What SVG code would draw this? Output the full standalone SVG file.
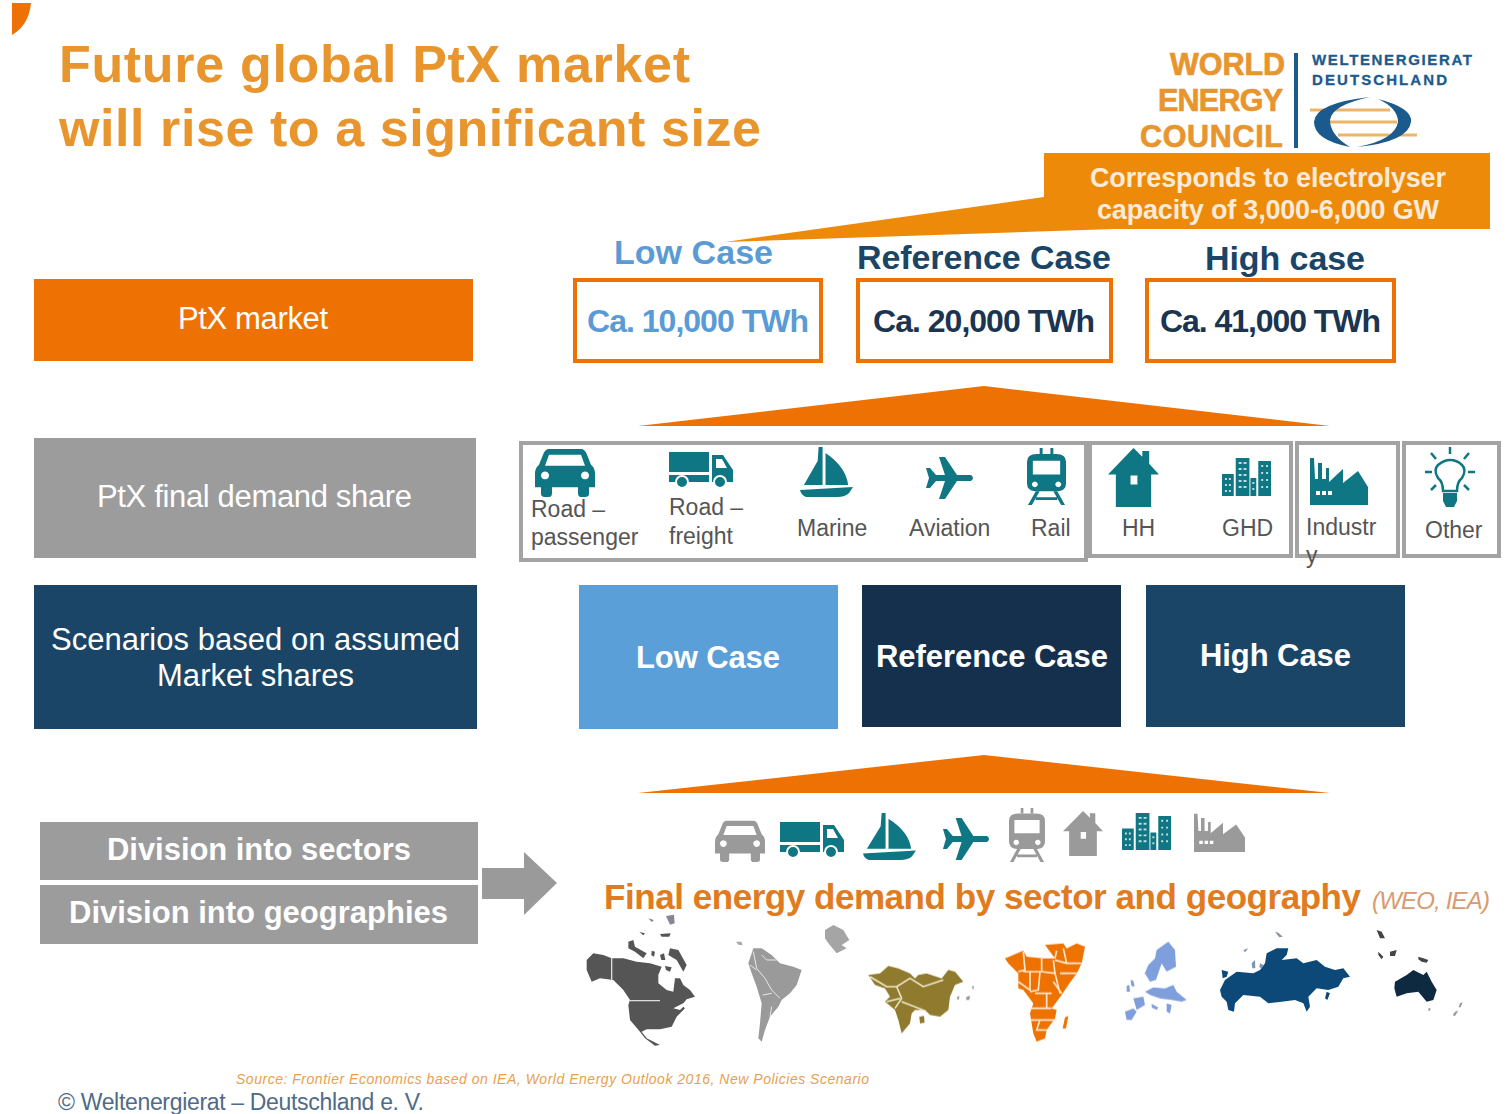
<svg xmlns="http://www.w3.org/2000/svg" width="1511" height="1114" viewBox="0 0 1511 1114" xmlns:xlink="http://www.w3.org/1999/xlink">
<style>
text{font-family:"Liberation Sans",Arial,sans-serif}
.title{font-size:52px;font-weight:700;fill:#E8952E}
.wl{font-size:31px;fill:#fff}
.wb{font-size:31px;font-weight:700;fill:#fff}
.lab{font-size:23px;fill:#555}
.val{font-size:32px;font-weight:700}
.head{font-size:34px;font-weight:700}
.logo{font-size:30.5px;font-weight:700;fill:#E8952E;stroke:#E8952E;stroke-width:.7}
.logo2{font-size:15px;font-weight:700;fill:#1B5A8C;stroke:#1B5A8C;stroke-width:.3}
.frame{fill:#fff;stroke:#A3A3A3;stroke-width:4}
.vbox{fill:#fff;stroke:#EE7203;stroke-width:4}
.t{fill:#0F7683}
.g{fill:#9A9A9A}
</style>
<defs>
<filter id="soft" x="-5%" y="-5%" width="110%" height="110%"><feGaussianBlur stdDeviation="0.6"/></filter>
<symbol id="car" viewBox="0 0 60 50" preserveAspectRatio="none"><path fill-rule="evenodd" d="M14 1H46Q50 1 52 7L56 17Q60 20 60 26V40H54V47Q54 50 50 50H46Q43 50 43 46V40H17V46Q17 50 14 50H10Q6 50 6 47V40H0V26Q0 20 4 17L8 7Q10 1 14 1ZM14 7L10 18H50L46 7ZM10 24a4 4 0 1 0 .1 0ZM50 24a4 4 0 1 0 .1 0Z"/></symbol>
<symbol id="truck" viewBox="0 0 64 36" preserveAspectRatio="none"><rect width="40" height="20"/><path fill-rule="evenodd" d="M0 23H40V30H0ZM43 3H54L64 18V30H43ZM47 7V16H58L53 7Z"/><circle cx="13" cy="30" r="6" stroke="#fff" stroke-width="2"/><circle cx="51" cy="30" r="6" stroke="#fff" stroke-width="2"/></symbol>
<symbol id="boat" viewBox="0 0 54 50" preserveAspectRatio="none"><path d="M19 0H23V38H4L18 14ZM26 6Q47 20 49 38H26ZM0 43L54 40L50 46Q46 50 38 50H6Q1 48 0 43Z"/></symbol>
<symbol id="plane" viewBox="0 0 50 42" preserveAspectRatio="none"><path d="M1 11H5L11 18H20L14 0H20L32 18H46Q50 21 46 24H32L20 42H14L20 24H11L5 31H1L4 21Z"/></symbol>
<symbol id="train" viewBox="0 0 40 58" preserveAspectRatio="none"><path fill-rule="evenodd" d="M10 6H30Q40 6 40 14V36Q40 43 32 44H8Q0 43 0 36V14Q0 6 10 6ZM6 13V27H34V13ZM8 34a3 3 0 1 0 .1 0ZM32 34a3 3 0 1 0 .1 0Z"/><path d="M13 0H16V6H13ZM24 0H27V6H24ZM9 44H13L5 58H1ZM27 44H31L39 58H35ZM9 50H31V53H9Z"/></symbol>
<symbol id="house" viewBox="0 0 52 60" preserveAspectRatio="none"><path fill-rule="evenodd" d="M26 0L35 9V3H42V16L52 27H44V60H8V27H0ZM23 28V37H30V28Z"/></symbol>
<symbol id="city" viewBox="0 0 50 38" preserveAspectRatio="none"><path d="M0 16H12V38H0ZM14 0H28V38H14ZM29 20H35V38H29ZM37 3H50V38H37Z"/><g fill="#fff" opacity=".75"><path d="M3 20h2v2H3ZM7 20h2v2H7ZM3 26h2v2H3ZM7 26h2v2H7ZM3 32h2v2H3ZM7 32h2v2H7ZM17 4h3v2h-3ZM22 4h3v2h-3ZM17 10h3v2h-3ZM22 10h3v2h-3ZM17 16h3v2h-3ZM22 16h3v2h-3ZM17 22h3v2h-3ZM22 22h3v2h-3ZM17 28h3v2h-3ZM22 28h3v2h-3ZM31 24h2v2h-2ZM31 30h2v2h-2ZM40 7h2v2h-2ZM45 7h2v2h-2ZM40 14h2v2h-2ZM45 14h2v2h-2ZM40 21h2v2h-2ZM45 21h2v2h-2ZM40 28h2v2h-2ZM45 28h2v2h-2Z"/></g></symbol>
<symbol id="factory" viewBox="0 0 58 48" preserveAspectRatio="none"><path fill-rule="evenodd" d="M0 48V1H4L5 22H8V6H12V22H16V11H19V25L33 12V26L48 14L58 30V48ZM6 34V38H10V34ZM12 34V38H16V34ZM18 34V38H22V34Z"/></symbol>
</defs>
<rect width="1511" height="1114" fill="#fff"/>
<path id="corner" d="M12 3H31Q29 25 12 35Z" fill="#EE7203"/>
<g id="title"><text class="title" x="59" y="82" textLength="631">Future global PtX market</text><text class="title" x="59" y="146" textLength="702">will rise to a significant size</text></g>
<g id="logo">
<text class="logo" x="1170" y="75" textLength="115">WORLD</text><text class="logo" x="1158" y="111" textLength="125">ENERGY</text><text class="logo" x="1140" y="147" textLength="143">COUNCIL</text>
<rect x="1294" y="53" width="4" height="95" fill="#1B5A8C"/>
<text class="logo2" x="1312" y="65" textLength="160">WELTENERGIERAT</text><text class="logo2" x="1312" y="85" textLength="135">DEUTSCHLAND</text>
<path d="M1310 110H1390M1330 122H1397M1338 135H1417" stroke="#EDB56A" stroke-width="3" fill="none"/>
<path d="M1370 97Q1315 103 1314 122Q1314 140 1350 147Q1330 135 1330 120Q1332 105 1370 97Z" fill="#1B5A8C"/>
<path d="M1378 99Q1413 108 1411 122Q1408 142 1357 147Q1395 140 1398 122Q1398 108 1378 99Z" fill="#1B5A8C"/>
</g>
<g id="callout">
<path d="M1044 197L725 242L1114 229Z" fill="#EE8A0A"/>
<rect x="1044" y="153" width="446" height="76" fill="#EE8A0A"/>
<text x="1090" y="187" font-size="27" font-weight="700" fill="#FBEBD8" textLength="356">Corresponds to electrolyser</text>
<text x="1097" y="219" font-size="27" font-weight="700" fill="#FBEBD8" textLength="342">capacity of 3,000-6,000 GW</text>
</g>
<g id="ptx-market"><rect x="34" y="279" width="439" height="82" fill="#EE7203"/><text class="wl" x="178" y="329" textLength="150">PtX market</text></g>
<g id="case-low"><text class="head" x="614" y="264" fill="#5B9BD5" textLength="159">Low Case</text><rect class="vbox" x="575" y="280" width="246" height="81"/><text class="val" x="587" y="332" fill="#5B9BD5" textLength="222">Ca. 10,000 TWh</text></g>
<g id="case-ref"><text class="head" x="857" y="269" fill="#1B4566" textLength="254">Reference Case</text><rect class="vbox" x="858" y="280" width="253" height="81"/><text class="val" x="873" y="332" fill="#1B3450" textLength="222">Ca. 20,000 TWh</text></g>
<g id="case-high"><text class="head" x="1205" y="270" fill="#1B4566" textLength="160">High case</text><rect class="vbox" x="1147" y="280" width="247" height="81"/><text class="val" x="1160" y="332" fill="#1B3450" textLength="221">Ca. 41,000 TWh</text></g>
<g id="connectors">
<path d="M638 426L984 386L1330 426Z" fill="#EE7203"/>
<path d="M638 793L984 755L1330 793Z" fill="#EE7203"/>
<path d="M482 868H524V852L557 883L524 915V899H482Z" fill="#9A9A9A"/>
</g>
<g id="final-share"><rect x="34" y="438" width="442" height="120" fill="#9C9C9C"/><text class="wl" x="97" y="507" textLength="315">PtX final demand share</text></g>
<g id="sector-frames">
<rect class="frame" x="521" y="443" width="565" height="117"/>
<rect class="frame" x="1090" y="443" width="201" height="113"/>
<rect class="frame" x="1297" y="443" width="101" height="113"/>
<rect class="frame" x="1404" y="443" width="95" height="113"/>
</g>
<g id="sector-icons" class="t">
<use xlink:href="#car" href="#car" x="535" y="448" width="60" height="49"/>
<use xlink:href="#truck" href="#truck" x="669" y="452" width="64" height="36"/>
<use xlink:href="#boat" href="#boat" x="800" y="447" width="53" height="50"/>
<use xlink:href="#plane" href="#plane" x="925" y="457" width="50" height="42"/>
<use xlink:href="#train" href="#train" x="1027" y="448" width="39" height="57"/>
<use xlink:href="#house" href="#house" x="1108" y="448" width="51" height="59"/>
<use xlink:href="#city" href="#city" x="1222" y="458" width="49" height="38"/>
<use xlink:href="#factory" href="#factory" x="1310" y="457" width="58" height="48"/>
<g fill="none" stroke="#0F7683" stroke-width="2.5"><path d="M1443 491Q1443 482 1438 478Q1433 470 1438 465Q1444 460 1450 460Q1457 460 1462 465Q1467 470 1462 478Q1457 482 1457 491Z"/><path d="M1450 447V454M1431 453L1436 459M1469 453L1464 459M1425 472H1432M1468 472H1475M1431 490L1436 485M1469 490L1464 485"/></g>
<path d="M1443 493H1457V501L1454 507H1446L1443 501Z" fill="#0F7683"/>
</g>
<g id="sector-labels">
<text class="lab" x="531" y="517">Road –</text><text class="lab" x="531" y="545">passenger</text>
<text class="lab" x="669" y="515">Road –</text><text class="lab" x="669" y="544">freight</text>
<text class="lab" x="797" y="536">Marine</text><text class="lab" x="909" y="536">Aviation</text><text class="lab" x="1031" y="536">Rail</text>
<text class="lab" x="1122" y="536">HH</text><text class="lab" x="1222" y="536">GHD</text>
<text class="lab" x="1306" y="535">Industr</text><text class="lab" x="1306" y="563">y</text>
<text class="lab" x="1425" y="538">Other</text>
</g>
<g id="scenarios"><rect x="34" y="585" width="443" height="144" fill="#1B4566"/><text class="wl" x="51" y="650" textLength="409">Scenarios based on assumed</text><text class="wl" x="157" y="686" textLength="197">Market shares</text></g>
<g id="scen-low"><rect x="579" y="585" width="259" height="144" fill="#5B9FD8"/><text class="wb" x="636" y="668" textLength="144">Low Case</text></g>
<g id="scen-ref"><rect x="862" y="585" width="259" height="142" fill="#15304D"/><text class="wb" x="876" y="667" textLength="232">Reference Case</text></g>
<g id="scen-high"><rect x="1146" y="585" width="259" height="142" fill="#1B4566"/><text class="wb" x="1200" y="666" textLength="151">High Case</text></g>
<g id="div-sectors"><rect x="40" y="822" width="438" height="58" fill="#9C9C9C"/><text class="wb" x="107" y="860" textLength="304" fill="#F4F4F4">Division into sectors</text></g>
<g id="div-geo"><rect x="40" y="885" width="438" height="59" fill="#9C9C9C"/><text class="wb" x="69" y="923" textLength="379" fill="#F4F4F4">Division into geographies</text></g>
<g id="demand-icons">
<use class="g" xlink:href="#car" href="#car" x="715" y="820" width="50" height="42"/>
<use class="t" xlink:href="#truck" href="#truck" x="780" y="822" width="64" height="36"/>
<use class="t" xlink:href="#boat" href="#boat" x="863" y="813" width="53" height="47"/>
<use class="t" xlink:href="#plane" href="#plane" x="942" y="818" width="49" height="42"/>
<use class="g" xlink:href="#train" href="#train" x="1009" y="808" width="36" height="54"/>
<use class="g" xlink:href="#house" href="#house" x="1063" y="811" width="40" height="45"/>
<use class="t" xlink:href="#city" href="#city" x="1122" y="813" width="49" height="37"/>
<use class="g" xlink:href="#factory" href="#factory" x="1194" y="813" width="51" height="39"/>
</g>
<g id="demand-title">
<text x="604" y="909" font-size="35" font-weight="700" fill="#E07B20" textLength="757">Final energy demand by sector and geography</text>
<text x="1372" y="909" font-size="24" font-style="italic" fill="#D89A70" textLength="118">(WEO, IEA)</text>
</g>
<g id="maps" filter="url(#soft)">
<g transform="translate(580 910) scale(.33333)">
<path id="north-america" fill="#555" d="M20 150L40 130L70 135L95 145L130 145L170 155L210 160L245 170L235 195L235 220L260 240L280 245L285 205L300 205L310 225L330 240L345 260L320 268L310 280L280 295L300 300L310 290L315 295L290 320L275 350L240 358L200 358L185 365L200 385L240 405L225 407L195 385L180 365L150 330L145 285L150 270L130 240L100 210L60 205L35 215L20 180Z"/>
<path d="M95 143V210M148 272H240" stroke="#DDD" stroke-width="4" fill="none"/>
<path fill="#555" d="M145 95L160 90L165 110L200 130L190 145L165 125L145 115ZM270 115L295 120L320 165L310 185L290 150L265 135ZM240 72L272 70L268 80L245 80ZM178 66L195 70L190 76ZM215 122L225 125L222 140L214 136ZM240 135L252 130L256 150L244 150ZM255 168L275 172L270 185L258 180Z"/>
<path fill="#556" opacity=".7" d="M258 18L282 14L284 40L270 44ZM205 25L222 30L215 36Z"/>
<path id="south-america" fill="#9A9A9A" d="M505 160L520 115L545 115L575 135L600 160L640 170L665 180L650 225L630 250L605 270L595 290L570 320L555 360L545 395L535 385L540 340L545 280L530 230L515 190Z"/>
<path d="M520 125L530 175L555 205L575 240L600 265M530 180L510 165M548 255L575 250M545 135L560 150L590 150M570 320L575 290" stroke="#E8E8E8" stroke-width="3" fill="none"/>
<path fill="#AAA" d="M468 95L484 95L488 106L475 104Z"/>
<path id="greenland" fill="#A5A5A5" d="M735 60L760 45L790 60L808 90L785 105L800 115L770 130L745 100L735 85Z"/>
</g>
<g transform="translate(860 930) scale(.33333)">
<path id="asia" fill="#8F7A2E" d="M25 135L60 130L85 108L115 115L150 130L165 145L175 135L200 130L245 145L265 120L285 125L310 155L285 165L270 200L265 240L240 260L210 255L195 240L165 240L155 250L150 280L125 310L115 270L105 240L75 215L90 200L75 175L45 165Z"/>
<path d="M30 140L80 170L110 170L150 145L190 170L250 150M110 170L125 205L105 235M125 215L190 240M80 215L120 205" stroke="#F2EBCF" stroke-width="4.5" fill="none"/>
<path fill="#8F7A2E" d="M178 260L192 258L194 278L180 280Z"/>
<path fill="#999" d="M320 200L330 198L328 210L318 210ZM292 200L298 198L297 208L291 208ZM335 170L342 168L340 180Z"/>
<path id="africa" fill="#EE7203" d="M435 85L490 62L500 80L550 85L585 85L555 45L610 40L620 55L650 40L675 50L665 100L650 130L625 165L605 195L575 235L590 240L585 265L560 300L555 325L530 335L520 310L510 250L520 220L490 180L475 175L475 130L445 100Z"/>
<path d="M490 65L495 120L475 125M545 85L545 125L490 125M580 90L585 130L545 125M600 130L650 130M610 55L620 100L665 100M585 90L620 100M585 130L600 190M510 125L510 180L475 155M540 125L535 180L510 185M580 155L605 190M525 190L575 190M510 235L575 235M560 190L560 235M510 270L590 270M540 270L530 300L560 300M590 62L585 85" stroke="#FDE6D0" stroke-width="5" fill="none"/>
<path fill="#EE7203" d="M615 262L625 258L618 295L608 295Z"/>
<g id="europe" fill="#7F9FDC">
<path d="M850 140L865 105L885 85L890 60L925 35L945 60L948 110L920 125L905 100L888 150L870 155L855 130Z"/>
<path d="M855 185L880 172L915 175L940 165L950 185L980 210L965 215L935 210L900 205L870 195Z"/>
<path d="M795 245L820 235L830 245L815 270L800 270ZM820 205L850 200L855 225L830 240ZM800 168L808 165L810 185L800 185ZM812 150L820 152L824 170L814 168ZM875 222L895 232L890 240L875 232ZM920 220L935 225L930 250L920 245Z"/>
</g>
</g>
<g transform="translate(1210 920) scale(.33333)">
<path id="russia" fill="#0F4A78" d="M30 210L45 180L80 155L130 160L150 150L165 130L170 100L200 85L235 85L230 105L215 120L260 115L280 130L320 120L345 140L375 150L400 145L420 170L400 175L385 200L355 210L320 205L295 230L300 260L290 275L280 250L255 240L215 245L175 250L150 230L100 225L75 250L72 275L55 270L50 245L35 230Z"/>
<path fill="#0F4A78" d="M35 150L55 155L50 170L38 175ZM350 215L360 220L352 240L345 235Z"/>
<path fill="#7A95AD" d="M195 35L205 38L218 50L208 52ZM100 90L115 85L105 97ZM125 130L135 120L136 145L127 145ZM150 130L160 135L155 145L148 142Z"/>
<path id="australia" fill="#0C2A40" d="M555 185L590 165L610 150L640 165L650 155L665 185L680 210L670 240L650 245L625 215L590 220L560 230L553 205Z"/>
<path fill="#444" d="M500 30L515 35L525 55L510 55ZM505 95L520 110L515 118L505 105ZM540 95L560 90L555 108L540 108ZM625 110L640 115L655 120L650 128L635 125L625 118Z"/>
<path fill="#999" d="M750 250L758 247L752 262L746 262ZM735 275L745 272L735 288L728 286ZM655 265L662 265L660 272L655 272Z"/>
</g>
</g>
<g id="footer">
<text x="236" y="1084" font-size="14" font-style="italic" fill="#E8A050" textLength="633">Source: Frontier Economics based on IEA, World Energy Outlook 2016, New Policies Scenario</text>
<text x="58" y="1110" font-size="23" fill="#4F6B88" textLength="366">© Weltenergierat – Deutschland e. V.</text>
</g>
</svg>
